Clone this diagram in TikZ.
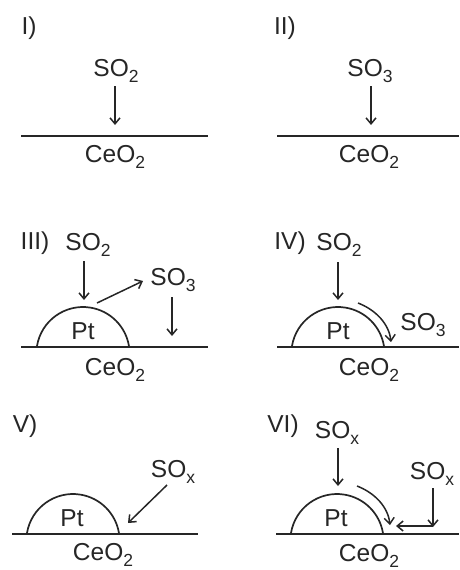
\documentclass[tikz,border=0pt]{standalone}
\usepackage{fontspec}
\setmainfont{Liberation Sans}
\usetikzlibrary{arrows.meta}
\newcommand\chemsub[1]{\raisebox{-0.4ex}{\fontsize{17.5}{17.5}\selectfont #1}}
\tikzset{
  lbl/.style={font=\fontsize{24.5}{24.5}\selectfont, inner sep=0pt, anchor=center, text=black!85},
  surf/.style={line width=1.9pt, black!85},
  dome/.style={line width=1.7pt, black!85},
  arr/.style={line width=1.5pt, black!85, -{Straight Barb[length=6pt,width=10pt,line width=1.5pt]}},
}
\begin{document}
\begin{tikzpicture}[x=1pt,y=-1pt]
\useasboundingbox (0,0) rectangle (459,570);
% ---------- Panel I
\node[lbl] (r1) at (29,28) {I)};
\node[lbl] (a1) at (116,71) {SO\chemsub{2}};
\coordinate (a1s) at (115,86); \coordinate (a1e) at (115,125);
\draw[arr] (a1s) -- (a1e);
\coordinate (l1a) at (21,136); \coordinate (l1b) at (208,136);
\draw[surf] (l1a) -- (l1b);
\node[lbl] (c1) at (115,157) {CeO\chemsub{2}};
% ---------- Panel II
\node[lbl] (r2) at (285,28) {II)};
\node[lbl] (a2) at (370,71) {SO\chemsub{3}};
\coordinate (a2s) at (371,86); \coordinate (a2e) at (371,125);
\draw[arr] (a2s) -- (a2e);
\coordinate (l2a) at (277,136); \coordinate (l2b) at (459,136);
\draw[surf] (l2a) -- (l2b);
\node[lbl] (c2) at (369,157) {CeO\chemsub{2}};
% ---------- Panel III
\node[lbl] (r3) at (35,243) {III)};
\node[lbl] (a3) at (88,245) {SO\chemsub{2}};
\coordinate (a3s) at (84,261); \coordinate (a3e) at (84,300);
\draw[arr] (a3s) -- (a3e);
\coordinate (d3) at (37,346);
\draw[dome] (d3) arc[start angle=-170.6, end angle=-9.4, radius=46.6];
\node[lbl] (p3) at (83,331) {Pt};
\coordinate (b3s) at (97,303); \coordinate (b3e) at (143,281);
\draw[arr] (b3s) -- (b3e);
\node[lbl] (s3) at (173,280) {SO\chemsub{3}};
\coordinate (e3s) at (172,297); \coordinate (e3e) at (172,336);
\draw[arr] (e3s) -- (e3e);
\coordinate (l3a) at (21,347); \coordinate (l3b) at (208,347);
\draw[surf] (l3a) -- (l3b);
\node[lbl] (c3) at (115,370) {CeO\chemsub{2}};
% ---------- Panel IV
\node[lbl] (r4) at (290,243) {IV)};
\node[lbl] (a4) at (339,245) {SO\chemsub{2}};
\coordinate (a4s) at (338,262); \coordinate (a4e) at (338,300);
\draw[arr] (a4s) -- (a4e);
\coordinate (d4) at (292,346);
\draw[dome] (d4) arc[start angle=-170.6, end angle=-9.4, radius=46.6];
\node[lbl] (p4) at (338,331) {Pt};
\coordinate (b4s) at (358,303); \coordinate (b4e) at (391,342);
\draw[arr] (b4s) .. controls (376,310) and (389,324) .. (b4e);
\node[lbl] (s4) at (423,325) {SO\chemsub{3}};
\coordinate (l4a) at (277,347); \coordinate (l4b) at (459,347);
\draw[surf] (l4a) -- (l4b);
\node[lbl] (c4) at (369,370) {CeO\chemsub{2}};
% ---------- Panel V
\node[lbl] (r5) at (25,426) {V)};
\coordinate (d5) at (27,533);
\draw[dome] (d5) arc[start angle=-170.6, end angle=-9.4, radius=46.6];
\node[lbl] (p5) at (72,518) {Pt};
\node[lbl] (s5) at (173,472) {SO\chemsub{x}};
\coordinate (b5s) at (167,485); \coordinate (b5e) at (128,523);
\draw[arr] (b5s) -- (b5e);
\coordinate (l5a) at (12,534); \coordinate (l5b) at (198,534);
\draw[surf] (l5a) -- (l5b);
\node[lbl] (c5) at (103,555) {CeO\chemsub{2}};
% ---------- Panel VI
\node[lbl] (r6) at (283,426) {VI)};
\node[lbl] (a6) at (337,433) {SO\chemsub{x}};
\coordinate (a6s) at (338,448); \coordinate (a6e) at (338,486);
\draw[arr] (a6s) -- (a6e);
\coordinate (d6) at (291,533);
\draw[dome] (d6) arc[start angle=-170.6, end angle=-9.4, radius=46.6];
\node[lbl] (p6) at (336,518) {Pt};
\coordinate (b6s) at (357,486); \coordinate (b6e) at (390,525);
\draw[arr] (b6s) .. controls (375,493) and (388,507) .. (b6e);
\node[lbl] (s6) at (432,474) {SO\chemsub{x}};
\coordinate (e6s) at (433,488); \coordinate (e6e) at (433,527);
\draw[arr] (e6s) -- (e6e);
\coordinate (h6s) at (433,526); \coordinate (h6e) at (396,526);
\draw[arr] (h6s) -- (h6e);
\coordinate (l6a) at (276,534); \coordinate (l6b) at (459,534);
\draw[surf] (l6a) -- (l6b);
\node[lbl] (c6) at (369,556) {CeO\chemsub{2}};
\end{tikzpicture}
\end{document}
